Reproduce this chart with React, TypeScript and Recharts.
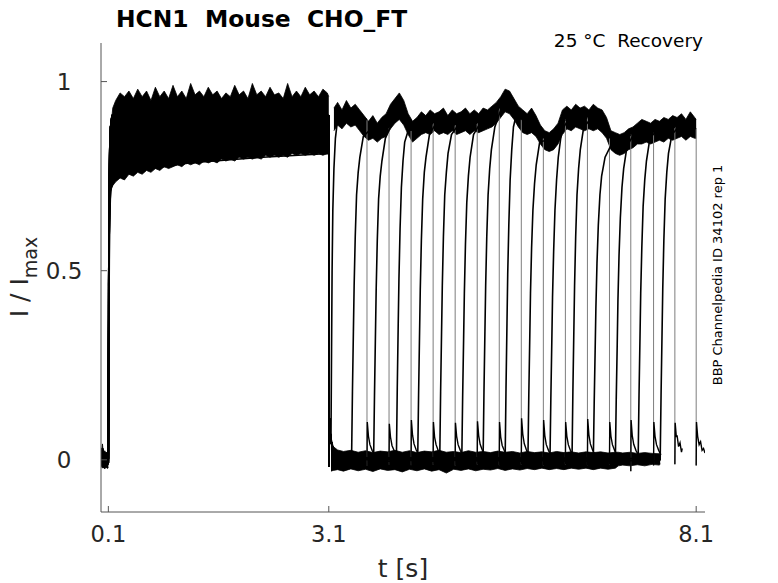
import React from 'react';
import { ComposedChart, Line, Area, XAxis, YAxis } from 'recharts';

// ---------- axes ----------
const X_DOMAIN = [0, 8.22];
const Y_DOMAIN = [-0.138, 1.102];
const X_TICKS = [0.1, 3.1, 8.1];
const Y_TICKS = [0, 0.5, 1];

// ---------- noise envelopes: [t, low, high] ----------
const ENV_PRE = [
  [0, -0.016, 0.014], [0.012, -0.02, 0.03], [0.02, -0.022, 0.042], [0.03, -0.02, 0.02],
  [0.05, -0.024, 0.024], [0.07, -0.02, 0.018], [0.09, -0.023, 0.022], [0.1, -0.02, 0.016],
];

const ENV_ACT = [
  [0.13, 0.71, 0.87], [0.16, 0.725, 0.93], [0.2, 0.735, 0.95], [0.26, 0.745, 0.97], [0.32, 0.74, 0.96],
  [0.38, 0.755, 0.975], [0.44, 0.75, 0.955], [0.5, 0.76, 0.98], [0.56, 0.755, 0.96], [0.62, 0.765, 0.975],
  [0.68, 0.76, 0.95], [0.74, 0.77, 0.985], [0.8, 0.765, 0.96], [0.86, 0.775, 0.975], [0.92, 0.77, 0.955],
  [0.98, 0.775, 0.99], [1.04, 0.78, 0.96], [1.1, 0.775, 0.975], [1.16, 0.785, 0.955], [1.22, 0.78, 0.995],
  [1.28, 0.785, 0.965], [1.34, 0.78, 0.975], [1.4, 0.79, 0.96], [1.46, 0.785, 0.985], [1.52, 0.79, 0.965],
  [1.58, 0.785, 0.975], [1.64, 0.795, 0.955], [1.7, 0.79, 0.97], [1.76, 0.795, 0.96], [1.82, 0.79, 0.99],
  [1.88, 0.8, 0.965], [1.94, 0.795, 0.975], [2.0, 0.8, 0.955], [2.06, 0.795, 0.995], [2.12, 0.8, 0.965],
  [2.18, 0.795, 0.975], [2.24, 0.805, 0.96], [2.3, 0.8, 0.985], [2.36, 0.805, 0.965], [2.42, 0.8, 0.97],
  [2.48, 0.805, 0.955], [2.54, 0.8, 0.995], [2.6, 0.81, 0.96], [2.66, 0.805, 0.975], [2.72, 0.81, 0.96],
  [2.78, 0.805, 0.985], [2.84, 0.81, 0.965], [2.9, 0.805, 0.975], [2.96, 0.81, 0.96], [3.02, 0.805, 0.98],
  [3.08, 0.81, 0.97], [3.1, 0.81, 0.96],
];

const ENV_BASE = [
  [3.13, -0.03, 0.06], [3.16, -0.028, 0.035], [3.22, -0.026, 0.026], [3.3, -0.03, 0.022], [3.4, -0.024, 0.025],
  [3.5, -0.029, 0.02], [3.6, -0.025, 0.024], [3.7, -0.031, 0.019], [3.8, -0.024, 0.023], [3.9, -0.028, 0.021],
  [4.0, -0.026, 0.025], [4.1, -0.032, 0.02], [4.2, -0.025, 0.024], [4.3, -0.029, 0.019], [4.4, -0.024, 0.023],
  [4.5, -0.03, 0.021], [4.6, -0.026, 0.025], [4.7, -0.035, 0.02], [4.8, -0.025, 0.022], [4.9, -0.028, 0.019],
  [5.0, -0.024, 0.024], [5.1, -0.029, 0.02], [5.2, -0.025, 0.022], [5.3, -0.027, 0.019], [5.4, -0.023, 0.023],
  [5.5, -0.028, 0.02], [5.6, -0.024, 0.022], [5.7, -0.027, 0.018], [5.8, -0.023, 0.022], [5.9, -0.026, 0.019],
  [6.0, -0.022, 0.021], [6.1, -0.026, 0.018], [6.2, -0.023, 0.022], [6.3, -0.026, 0.019], [6.4, -0.022, 0.021],
  [6.5, -0.025, 0.018], [6.6, -0.022, 0.021], [6.7, -0.026, 0.019], [6.8, -0.022, 0.021], [6.9, -0.025, 0.018],
  [7.0, -0.022, 0.02], [7.04, -0.016, 0.02], [7.1, -0.014, 0.018], [7.2, -0.016, 0.02], [7.3, -0.013, 0.017],
  [7.4, -0.016, 0.019], [7.5, -0.012, 0.017], [7.6, -0.014, 0.016], [7.61, -0.01, 0.012],
];

const ENV_TOP = [
  [3.17, 0.87, 0.93], [3.22, 0.885, 0.945], [3.28, 0.875, 0.925], [3.34, 0.89, 0.95], [3.4, 0.88, 0.93],
  [3.46, 0.885, 0.94], [3.52, 0.87, 0.925], [3.58, 0.855, 0.91], [3.64, 0.845, 0.895], [3.7, 0.85, 0.91],
  [3.76, 0.84, 0.89], [3.82, 0.85, 0.905], [3.88, 0.855, 0.915], [3.94, 0.875, 0.94], [4.0, 0.89, 0.955],
  [4.06, 0.9, 0.97], [4.12, 0.885, 0.95], [4.18, 0.86, 0.915], [4.24, 0.84, 0.895], [4.3, 0.85, 0.905],
  [4.36, 0.86, 0.92], [4.42, 0.865, 0.91], [4.48, 0.86, 0.925], [4.54, 0.87, 0.915], [4.6, 0.86, 0.92],
  [4.66, 0.865, 0.93], [4.72, 0.86, 0.91], [4.78, 0.87, 0.925], [4.84, 0.86, 0.915], [4.9, 0.865, 0.92],
  [4.96, 0.87, 0.93], [5.02, 0.86, 0.915], [5.08, 0.87, 0.925], [5.14, 0.865, 0.915], [5.2, 0.87, 0.93],
  [5.26, 0.875, 0.925], [5.32, 0.88, 0.935], [5.38, 0.89, 0.945], [5.44, 0.905, 0.96], [5.5, 0.92, 0.98],
  [5.56, 0.915, 0.975], [5.62, 0.9, 0.955], [5.68, 0.88, 0.935], [5.74, 0.865, 0.925], [5.8, 0.86, 0.915],
  [5.86, 0.865, 0.93], [5.92, 0.855, 0.91], [5.98, 0.835, 0.885], [6.04, 0.82, 0.87], [6.1, 0.815, 0.865],
  [6.16, 0.82, 0.875], [6.22, 0.835, 0.89], [6.28, 0.86, 0.925], [6.34, 0.875, 0.935], [6.4, 0.87, 0.925],
  [6.46, 0.88, 0.94], [6.52, 0.875, 0.93], [6.58, 0.87, 0.935], [6.64, 0.875, 0.925], [6.7, 0.87, 0.94],
  [6.76, 0.875, 0.93], [6.82, 0.865, 0.925], [6.88, 0.85, 0.905], [6.94, 0.82, 0.87], [7.0, 0.81, 0.865],
  [7.06, 0.805, 0.86], [7.12, 0.81, 0.865], [7.18, 0.82, 0.875], [7.24, 0.825, 0.88], [7.3, 0.835, 0.89],
  [7.36, 0.835, 0.9], [7.42, 0.84, 0.895], [7.48, 0.835, 0.89], [7.54, 0.84, 0.9], [7.6, 0.845, 0.895],
  [7.66, 0.84, 0.905], [7.72, 0.85, 0.9], [7.78, 0.845, 0.91], [7.84, 0.85, 0.905], [7.9, 0.855, 0.915],
  [7.96, 0.845, 0.9], [8.02, 0.855, 0.92], [8.08, 0.85, 0.905], [8.1, 0.85, 0.9],
];

// ---------- activation phase (three shapes seen at the 0.1 s step): [t, I/Imax] ----------
const ACT_HI = [
  [0, 0.004], [0.02, 0.03], [0.035, -0.012], [0.05, 0.015], [0.07, -0.018], [0.085, 0.01], [0.1, -0.008],
  [0.102, 0.22], [0.105, 0.46], [0.109, 0.63], [0.114, 0.75], [0.12, 0.83], [0.13, 0.88], [0.15, 0.91],
  [0.4, 0.93], [1.2, 0.92], [2.2, 0.93], [3.098, 0.91],
];
const ACT_MID = [
  [0, -0.006], [0.025, 0.012], [0.045, -0.02], [0.065, 0.018], [0.09, -0.012], [0.1, 0.004],
  [0.103, 0.18], [0.107, 0.42], [0.111, 0.58], [0.117, 0.7], [0.126, 0.78], [0.14, 0.83], [0.18, 0.86],
  [0.6, 0.87], [1.5, 0.885], [2.5, 0.89], [3.098, 0.88],
];
const ACT_LOW = [
  [0, 0.01], [0.03, -0.016], [0.055, 0.012], [0.08, -0.02], [0.1, 0.0],
  [0.104, 0.14], [0.108, 0.36], [0.113, 0.53], [0.119, 0.63], [0.127, 0.69], [0.14, 0.72], [0.2, 0.745],
  [0.5, 0.765], [1.2, 0.785], [2.2, 0.8], [3.098, 0.81],
];
const ACT_BY_SWEEP = ['hi', 'mid', 'hi', 'low', 'mid', 'hi', 'mid', 'hi', 'mid', 'hi', 'hi', 'mid', 'hi', 'mid', 'hi', 'mid'];

// deactivation at 3.1 s (shared by the sweeps whose gap is longer)
const DEACT = [
  [3.1, 0.86], [3.103, -0.018], [3.108, 0.11], [3.118, 0.072], [3.135, 0.045], [3.16, 0.028], [3.2, 0.015], [3.3, 0.005],
];

// ---------- recovery of each sweep: [t, I/Imax] ----------
const REC = [
  [[3.1, 0.9], [3.103, -0.012], [3.11, 0.07], [3.12, 0.05], [3.13, 0.06], [3.138, 0.3], [3.145, 0.5], [3.155, 0.66], [3.17, 0.77], [3.19, 0.85], [3.22, 0.9], [3.3, 0.91], [3.4, 0.905], [3.5, 0.9], [3.62, 0.9]],
  [[3.39, -0.004], [3.41, 0.0], [3.422, 0.18], [3.435, 0.34], [3.445, 0.46], [3.46, 0.59], [3.478, 0.7], [3.5, 0.76], [3.523, 0.8], [3.57, 0.855], [3.65, 0.87], [3.75, 0.86], [3.85, 0.87], [3.92, 0.88]],
  [[3.69, 0.004], [3.71, 0.0], [3.722, 0.17], [3.735, 0.33], [3.745, 0.45], [3.76, 0.58], [3.778, 0.69], [3.8, 0.75], [3.823, 0.79], [3.87, 0.85], [3.96, 0.89], [4.06, 0.92], [4.16, 0.9], [4.22, 0.87]],
  [[4.0, -0.005], [4.02, 0.0], [4.032, 0.19], [4.045, 0.36], [4.055, 0.48], [4.07, 0.61], [4.088, 0.72], [4.11, 0.79], [4.133, 0.84], [4.18, 0.87], [4.27, 0.875], [4.37, 0.885], [4.46, 0.885], [4.52, 0.89]],
  [[4.29, 0.003], [4.31, 0.0], [4.322, 0.17], [4.335, 0.33], [4.345, 0.45], [4.36, 0.58], [4.378, 0.69], [4.4, 0.76], [4.423, 0.8], [4.47, 0.86], [4.56, 0.89], [4.66, 0.895], [4.76, 0.89], [4.82, 0.885]],
  [[4.59, -0.004], [4.61, 0.0], [4.622, 0.18], [4.635, 0.34], [4.645, 0.46], [4.66, 0.59], [4.678, 0.7], [4.7, 0.76], [4.723, 0.81], [4.77, 0.86], [4.86, 0.885], [4.96, 0.895], [5.06, 0.89], [5.12, 0.89]],
  [[4.89, 0.004], [4.91, 0.0], [4.922, 0.17], [4.935, 0.32], [4.945, 0.44], [4.96, 0.57], [4.978, 0.68], [5.0, 0.75], [5.023, 0.8], [5.07, 0.86], [5.16, 0.89], [5.26, 0.9], [5.36, 0.915], [5.42, 0.93]],
  [[5.18, -0.003], [5.2, 0.0], [5.212, 0.18], [5.225, 0.34], [5.235, 0.46], [5.25, 0.59], [5.268, 0.7], [5.29, 0.77], [5.313, 0.82], [5.36, 0.88], [5.45, 0.93], [5.55, 0.95], [5.65, 0.93], [5.72, 0.9]],
  [[5.48, 0.004], [5.5, 0.0], [5.512, 0.19], [5.525, 0.36], [5.535, 0.49], [5.55, 0.62], [5.568, 0.74], [5.59, 0.82], [5.613, 0.88], [5.66, 0.92], [5.75, 0.895], [5.85, 0.89], [5.95, 0.87], [6.02, 0.85]],
  [[5.79, -0.004], [5.81, 0.0], [5.822, 0.17], [5.835, 0.32], [5.845, 0.44], [5.86, 0.56], [5.878, 0.66], [5.9, 0.73], [5.923, 0.78], [5.97, 0.84], [6.06, 0.845], [6.16, 0.85], [6.26, 0.88], [6.32, 0.9]],
  [[6.09, 0.003], [6.11, 0.0], [6.122, 0.16], [6.135, 0.31], [6.145, 0.43], [6.16, 0.55], [6.178, 0.66], [6.2, 0.74], [6.223, 0.8], [6.27, 0.87], [6.36, 0.9], [6.46, 0.905], [6.56, 0.9], [6.62, 0.905]],
  [[6.39, -0.003], [6.41, 0.0], [6.422, 0.18], [6.435, 0.34], [6.445, 0.46], [6.46, 0.59], [6.478, 0.7], [6.5, 0.77], [6.523, 0.82], [6.57, 0.88], [6.66, 0.9], [6.76, 0.9], [6.86, 0.885], [6.92, 0.85]],
  [[6.68, 0.004], [6.7, 0.0], [6.712, 0.15], [6.725, 0.29], [6.735, 0.4], [6.75, 0.52], [6.768, 0.62], [6.79, 0.7], [6.813, 0.75], [6.86, 0.8], [6.95, 0.835], [7.05, 0.84], [7.15, 0.85], [7.21, 0.86]],
  [[6.98, -0.004], [7.0, 0.0], [7.012, 0.16], [7.025, 0.3], [7.035, 0.42], [7.05, 0.54], [7.068, 0.64], [7.09, 0.72], [7.113, 0.77], [7.16, 0.83], [7.25, 0.86], [7.35, 0.875], [7.45, 0.87], [7.52, 0.865]],
  [[7.29, 0.003], [7.31, 0.0], [7.322, 0.17], [7.335, 0.32], [7.345, 0.44], [7.36, 0.56], [7.378, 0.67], [7.4, 0.74], [7.423, 0.79], [7.47, 0.85], [7.56, 0.87], [7.66, 0.865], [7.76, 0.875], [7.81, 0.88]],
  [[7.59, -0.003], [7.61, 0.0], [7.622, 0.17], [7.635, 0.33], [7.645, 0.45], [7.66, 0.58], [7.678, 0.69], [7.7, 0.76], [7.723, 0.81], [7.77, 0.86], [7.86, 0.88], [7.96, 0.885], [8.05, 0.88], [8.1, 0.875]],
];

// end of each test pulse: time, level before the step, level after
const DROP_T = [3.62, 3.92, 4.22, 4.52, 4.82, 5.12, 5.42, 5.72, 6.02, 6.32, 6.62, 6.92, 7.21, 7.52, 7.81, 8.1];
const DROP_TOP = [0.9, 0.88, 0.87, 0.89, 0.885, 0.89, 0.93, 0.9, 0.85, 0.9, 0.905, 0.85, 0.86, 0.865, 0.88, 0.875];
const DROP_BOT = [-0.015, -0.012, -0.014, -0.013, -0.015, -0.012, -0.014, -0.013, -0.015, -0.012, -0.014, -0.013, -0.03, -0.015, -0.012, -0.015];

// tail transients after each test pulse
const TAILS = [
  [[3.62, -0.015], [3.624, 0.1], [3.64, 0.062], [3.66, 0.04], [3.69, 0.025], [3.72, 0.014]],
  [[3.92, -0.012], [3.924, 0.095], [3.94, 0.06], [3.96, 0.038], [3.99, 0.024], [4.02, 0.012]],
  [[4.22, -0.014], [4.224, 0.105], [4.24, 0.065], [4.26, 0.042], [4.29, 0.026], [4.32, 0.015]],
  [[4.52, -0.013], [4.524, 0.1], [4.54, 0.06], [4.56, 0.04], [4.59, 0.024], [4.62, 0.013]],
  [[4.82, -0.015], [4.824, 0.098], [4.84, 0.062], [4.86, 0.04], [4.89, 0.025], [4.92, 0.014]],
  [[5.12, -0.012], [5.124, 0.102], [5.14, 0.064], [5.16, 0.041], [5.19, 0.025], [5.22, 0.013]],
  [[5.42, -0.014], [5.424, 0.1], [5.44, 0.06], [5.46, 0.038], [5.49, 0.024], [5.52, 0.012]],
  [[5.72, -0.013], [5.724, 0.11], [5.74, 0.068], [5.76, 0.043], [5.79, 0.026], [5.82, 0.014]],
  [[6.02, -0.015], [6.024, 0.105], [6.04, 0.064], [6.06, 0.04], [6.09, 0.025], [6.12, 0.013]],
  [[6.32, -0.012], [6.324, 0.1], [6.34, 0.062], [6.36, 0.04], [6.39, 0.024], [6.42, 0.013]],
  [[6.62, -0.014], [6.624, 0.108], [6.64, 0.066], [6.66, 0.042], [6.69, 0.026], [6.72, 0.014]],
  [[6.92, -0.013], [6.924, 0.1], [6.94, 0.062], [6.96, 0.04], [6.99, 0.025], [7.02, 0.013]],
  [[7.21, -0.03], [7.214, 0.105], [7.23, 0.064], [7.25, 0.041], [7.28, 0.025], [7.31, 0.014]],
  [[7.52, -0.015], [7.524, 0.1], [7.54, 0.062], [7.56, 0.04], [7.59, 0.025], [7.62, 0.013]],
  [[7.81, -0.012], [7.814, 0.098], [7.83, 0.06], [7.84, 0.065], [7.86, 0.035], [7.88, 0.045], [7.9, 0.02], [7.91, 0.03]],
  [[8.1, -0.015], [8.104, 0.1], [8.12, 0.062], [8.14, 0.04], [8.16, 0.048], [8.18, 0.025], [8.2, 0.03], [8.22, 0.018]],
];

// ---------- texts ----------
const TITLE = 'HCN1  Mouse  CHO_FT';
const SUBTITLE = '25 °C  Recovery';
const SIDE_NOTE = 'BBP Channelpedia ID 34102 rep 1';
const X_LABEL = 't [s]';

// ---------- tables for the library ----------
const toPts = (arr: number[][]) => arr.map(([t, y]) => ({ t, y }));
const toEnv = (arr: number[][]) => arr.map(([t, lo, hi]) => ({ t, v: [lo, hi] }));
const ACT_SHAPES: Record<string, number[][]> = { hi: ACT_HI, mid: ACT_MID, low: ACT_LOW };

const SWEEPS = REC.map((rec, i) =>
  toPts(i === 0 ? [...ACT_SHAPES[ACT_BY_SWEEP[i]], ...rec] : [...ACT_SHAPES[ACT_BY_SWEEP[i]], ...DEACT, ...rec])
);
const DROP_DATA = DROP_T.flatMap((d, i) => [
  { t: d, y: DROP_TOP[i] },
  { t: d, y: DROP_BOT[i] },
  { t: d, y: null },
]);
const TAIL_DATA = TAILS.flatMap((tail) => [...toPts(tail), { t: tail[tail.length - 1][0], y: null }]);

const FONT = 'DejaVu Sans, sans-serif';
const TXT = '#262626';

const XTick = (props: any) => {
  const { x, payload } = props;
  return (
    <text x={x} y={542} textAnchor="middle" fontSize={22.5} fontFamily={FONT} fill={TXT}>
      {String(payload.value)}
    </text>
  );
};
const YTick = (props: any) => {
  const { y, payload } = props;
  return (
    <text x={64} y={y + 8} textAnchor="middle" fontSize={23} fontFamily={FONT} fill={TXT}>
      {String(payload.value)}
    </text>
  );
};

export default function App() {
  return (
    <div style={{ position: 'fixed', left: 0, top: 0, width: 778, height: 583, background: '#fff' }}>
      <ComposedChart width={778} height={583} margin={{ top: 43, right: 73, bottom: 41, left: 0 }}>
        <XAxis
          dataKey="t"
          type="number"
          domain={X_DOMAIN}
          ticks={X_TICKS}
          allowDataOverflow
          height={30}
          tickSize={-6}
          tick={<XTick />}
          stroke="#555"
          axisLine={{ stroke: '#555', strokeWidth: 1 }}
          tickLine={{ stroke: '#555', strokeWidth: 1 }}
        />
        <YAxis
          type="number"
          domain={Y_DOMAIN}
          ticks={Y_TICKS}
          allowDataOverflow
          width={101}
          tickSize={-6}
          tick={<YTick />}
          stroke="#555"
          axisLine={{ stroke: '#555', strokeWidth: 1 }}
          tickLine={{ stroke: '#555', strokeWidth: 1 }}
        />
        <Line data={DROP_DATA} dataKey="y" type="linear" stroke="#7d7d7d" strokeWidth={1} dot={false} activeDot={false} isAnimationActive={false} connectNulls={false} />
        <Area data={toEnv(ENV_PRE)} dataKey="v" type="linear" stroke="#000" strokeWidth={0.8} fill="#000" fillOpacity={1} dot={false} activeDot={false} isAnimationActive={false} />
        <Area data={toEnv(ENV_ACT)} dataKey="v" type="linear" stroke="#000" strokeWidth={0.8} fill="#000" fillOpacity={1} dot={false} activeDot={false} isAnimationActive={false} />
        <Area data={toEnv(ENV_BASE)} dataKey="v" type="linear" stroke="#000" strokeWidth={0.8} fill="#000" fillOpacity={1} dot={false} activeDot={false} isAnimationActive={false} />
        <Area data={toEnv(ENV_TOP)} dataKey="v" type="linear" stroke="#000" strokeWidth={0.8} fill="#000" fillOpacity={1} dot={false} activeDot={false} isAnimationActive={false} />
        {SWEEPS.map((data, i) => (
          <Line key={'s' + i} data={data} dataKey="y" type="linear" stroke="#000" strokeWidth={1.6} dot={false} activeDot={false} isAnimationActive={false} />
        ))}
        <Line data={TAIL_DATA} dataKey="y" type="linear" stroke="#000" strokeWidth={1.4} dot={false} activeDot={false} isAnimationActive={false} connectNulls={false} />
        <text x={116} y={27} fontSize={23.4} fontWeight="bold" fontFamily={FONT} fill="#000" style={{ whiteSpace: 'pre' }}>
          {TITLE}
        </text>
        <text x={703} y={47} textAnchor="end" fontSize={18.5} fontFamily={FONT} fill="#000" style={{ whiteSpace: 'pre' }}>
          {SUBTITLE}
        </text>
        <text transform="translate(722,275) rotate(-90)" textAnchor="middle" fontSize={13} fontFamily={FONT} fill="#000">
          {SIDE_NOTE}
        </text>
        <text x={403} y={577} textAnchor="middle" fontSize={25} fontFamily={FONT} fill={TXT}>
          {X_LABEL}
        </text>
        <text transform="translate(28,277) rotate(-90)" textAnchor="middle" fontFamily={FONT} fill={TXT}>
          <tspan fontSize={25}>I / I</tspan>
          <tspan fontSize={19} dy={9}>max</tspan>
        </text>
      </ComposedChart>
    </div>
  );
}
